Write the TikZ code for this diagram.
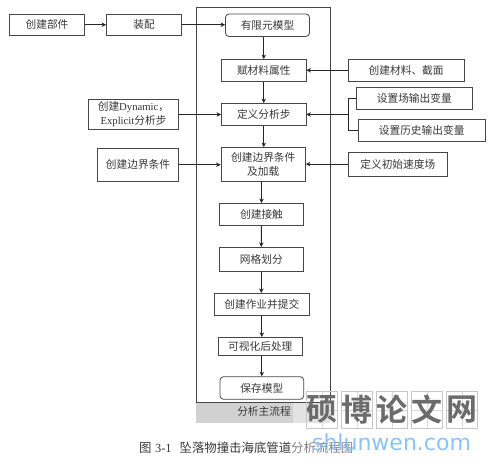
\documentclass[tikz,border=0pt]{standalone}
\usepackage{fontspec}
\setmainfont{Noto Sans CJK SC}
\newfontfamily\latinf{Liberation Serif}
\newfontfamily\wmlatin{DejaVu Sans}
\newfontfamily\wmcjk{Noto Sans CJK SC}[BoldFont={Noto Sans CJK SC Bold}]
\usetikzlibrary{arrows.meta}
\tikzset{
  box/.style={draw=black!72,line width=0.8pt,fill=white,text=black!78,inner sep=0pt,align=center,font=\fontsize{10.7}{14}\selectfont},
  rbox/.style={box,rounded corners=3.5pt},
  arr/.style={draw=black!85,line width=1pt,-{Stealth[length=4.5pt,width=4.5pt]}},
  plain/.style={draw=black!85,line width=1pt},
  wmcell/.style={draw=black!22,line width=0.5pt,minimum width=31.7pt,minimum height=37pt,inner sep=0pt,text=black!58,font=\wmcjk\bfseries\fontsize{31}{32}\selectfont,
    path picture={\draw[black!15,line width=0.4pt] (path picture bounding box.north) -- (path picture bounding box.south) (path picture bounding box.west) -- (path picture bounding box.east);}},
}
% name, x1, y1, x2, y2, style, text
\newcommand{\bx}[7]{%
  \pgfmathsetmacro{\cxx}{(#2+#4)/2}\pgfmathsetmacro{\cyy}{(#3+#5)/2}%
  \pgfmathsetmacro{\wdd}{#4-#2}\pgfmathsetmacro{\htt}{#5-#3}%
  \node[#6,minimum width=\wdd pt,minimum height=\htt pt] (#1) at (\cxx,\cyy) {#7};}
\begin{document}
\begin{tikzpicture}[x=1pt,y=-1pt]
\useasboundingbox (0,0) rectangle (495,462);
% frame and band
\node[draw=none,fill=black!18,minimum width=97pt,minimum height=21pt,inner sep=0pt] (band) at (244.75,412.2) {};
\node[draw=none,fill=black!11,minimum width=37pt,minimum height=21pt,inner sep=0pt] (bandr) at (311.5,412.2) {};
\node[draw=black!72,line width=0.8pt,minimum width=134pt,minimum height=394.5pt,inner sep=0pt] (frame) at (263.5,204.7) {};
\node[text=black!78,inner sep=0pt,font=\fontsize{10.7}{14}\selectfont] (bandlabel) at (264,411.5) {分析主流程};
% left
\bx{parts}{9.5}{14}{84.5}{35.5}{box}{创建部件}
\bx{assem}{106.5}{14}{181.5}{35.5}{box}{装配}
\bx{dyn}{88.5}{99.5}{178.5}{129.5}{box}{创建{\latinf Dynamic}，\\{\latinf Explicit}分析步}
\bx{bcl}{97.5}{148.5}{178.5}{181}{box}{创建边界条件}
% main
\bx{fem}{225.5}{14}{309.5}{36.5}{rbox}{有限元模型}
\bx{mat}{221.5}{59.5}{306}{81.5}{box}{赋材料属性}
\bx{step}{221.5}{103.5}{306}{125.5}{box}{定义分析步}
\bx{bc}{221}{147.5}{305.5}{181.5}{box}{创建边界条件\\及加载}
\bx{cont}{219.5}{203.5}{303.5}{225.5}{box}{创建接触}
\bx{mesh}{219.3}{247.3}{303.3}{271.3}{box}{网格划分}
\bx{job}{214.3}{293.3}{309.3}{315.3}{box}{创建作业并提交}
\bx{vis}{218.3}{337.3}{302.3}{355.3}{box}{可视化后处理}
\bx{save}{220}{376.7}{303.7}{399.3}{rbox}{保存模型}
% right
\bx{cmat}{348.3}{59.5}{464}{81}{box}{创建材料、截面}
\bx{fout}{356.3}{87.3}{472.3}{109}{box}{设置场输出变量}
\bx{hout}{358}{119}{485.3}{141.3}{box}{设置历史输出变量}
\bx{vel}{348.3}{152.3}{447.3}{176}{box}{定义初始速度场}
% connectors
\draw[arr] (parts.east) -- (assem.west);
\draw[arr] (assem.east) -- (assem.east -| fem.west);
\draw[arr] (fem.south -| mat.north) -- (mat.north);
\draw[arr] (mat.south) -- (step.north);
\draw[arr] (step.south) -- (step.south |- bc.north);
\draw[arr] (bc.south -| cont.north) -- (cont.north);
\draw[arr] (cont.south) -- (mesh.north);
\draw[arr] (mesh.south) -- (mesh.south |- job.north);
\draw[arr] (job.south) -- (job.south |- vis.north);
\draw[arr] (job.south |- vis.south) -- (job.south |- save.north);
\draw[arr] (cmat.west) -- (cmat.west -| mat.east);
\draw[arr] (dyn.east) -- (dyn.east -| step.west);
\draw[arr] (bcl.east) -- (bcl.east -| bc.west);
\draw[arr] (vel.west) -- (vel.west -| bc.east);
\coordinate (brk) at (348,114.5);
\draw[plain] (fout.west) -- (fout.west -| brk) -- (hout.west -| brk) -- (hout.west);
\draw[arr] (brk) -- (brk -| step.east);
% caption
\node[anchor=west,inner sep=0pt,text=black!78,font=\fontsize{12.4}{14}\selectfont] (cap) at (139,448) {图\hspace{3.5pt}{\latinf 3-1}\hspace{8pt}坠落物撞击海底管道\textcolor{black!50}{分析流程图}};
% watermark
\node[wmcell] (w1) at (321.8,409.7) {硕};
\node[wmcell] (w2) at (356.8,409.7) {博};
\node[wmcell] (w3) at (391.8,409.7) {论};
\node[wmcell] (w4) at (426.8,409.7) {文};
\node[wmcell] (w5) at (461.8,409.7) {网};
\node[anchor=center,inner sep=0pt,text=blue!50!cyan!55,opacity=0.85,font=\wmlatin\fontsize{22}{24}\selectfont] (wurl) at (391.5,442.5) {shlunwen.com};
\end{tikzpicture}
\end{document}
